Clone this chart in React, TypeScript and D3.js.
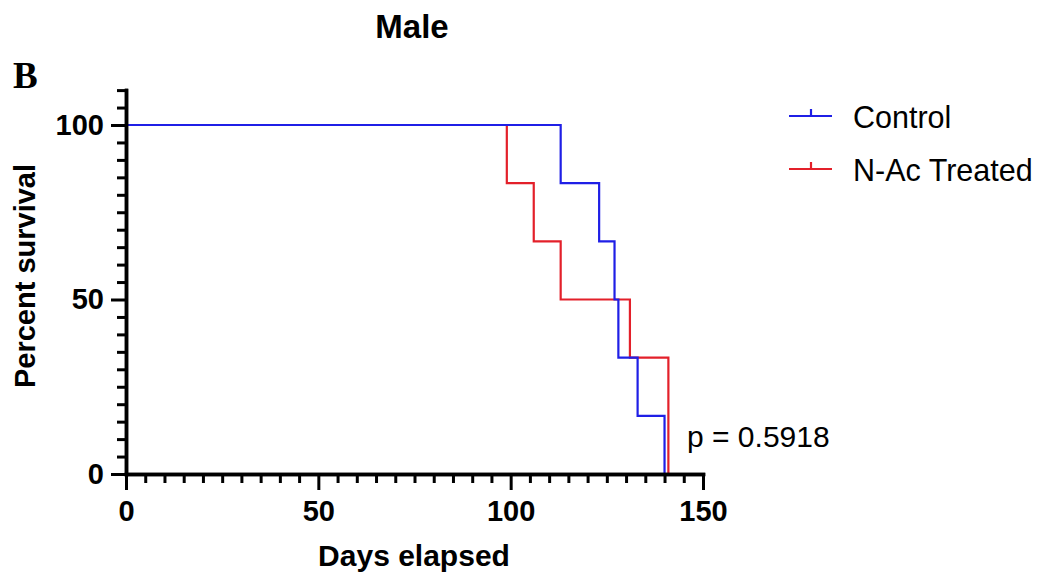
import React, { useEffect, useRef } from 'react';
import * as d3 from 'd3';

// Kaplan-Meier steps
const controlDays = [0, 113, 123, 127, 128, 133, 140];
const controlSurvival = [100, 83.33, 66.67, 50, 33.33, 16.67, 0];
const treatedDays = [0, 99, 106, 113, 131, 141];
const treatedSurvival = [100, 83.33, 66.67, 50, 33.33, 0];

const groups = ['Control', 'N-Ac Treated'];
const groupColors = ['#1f1fe6', '#e3202a'];
const xMajorTicks = [0, 50, 100, 150];
const yMajorTicks = [0, 50, 100];
const pValueText = 'p = 0.5918';

const FONT = '"Liberation Sans", Arial, Helvetica, sans-serif';

export default function App() {
  const svgRef = useRef<SVGSVGElement>(null);

  useEffect(() => {
    const svg = d3.select(svgRef.current);
    svg.selectAll('*').remove();

    const x = d3.scaleLinear().domain([0, 150]).range([126, 703]);
    const y = d3.scaleLinear().domain([0, 100]).range([474, 125]);

    const series = [
      controlDays.map((d, i) => [d, controlSurvival[i]]),
      treatedDays.map((d, i) => [d, treatedSurvival[i]]),
    ];

    const line = d3
      .line<number[]>()
      .x((d) => x(d[0]))
      .y((d) => y(d[1]))
      .curve(d3.curveStepAfter);

    // red under blue, like the original
    [1, 0].forEach((gi) => {
      svg
        .append('path')
        .attr('d', line(series[gi]))
        .attr('fill', 'none')
        .attr('stroke', groupColors[gi])
        .attr('stroke-width', 2.2);
    });

    // axes: minor ticks every 5, majors labelled
    const xMinor = d3.range(0, 151, 5).filter((v) => v % 50 !== 0);
    const yMinor = d3.range(0, 111, 5).filter((v) => v % 50 !== 0);

    const yFull = d3.scaleLinear().domain([0, 110]).range([474, y(110)]);

    const gxMinor = svg.append('g').attr('transform', 'translate(0,474)');
    gxMinor.call(d3.axisBottom(x).tickValues(xMinor).tickSize(9).tickSizeOuter(0).tickFormat(() => ''));
    const gyMinor = svg.append('g').attr('transform', 'translate(126,0)');
    gyMinor.call(d3.axisLeft(yFull).tickValues(yMinor).tickSize(9).tickSizeOuter(0).tickFormat(() => ''));

    const gx = svg.append('g').attr('transform', 'translate(0,474)');
    gx.call(
      d3.axisBottom(x).tickValues(xMajorTicks).tickSize(16).tickSizeOuter(0).tickPadding(10)
    );
    const gy = svg.append('g').attr('transform', 'translate(126,0)');
    gy.call(
      d3.axisLeft(yFull).tickValues(yMajorTicks).tickSize(15).tickSizeOuter(0).tickPadding(7)
    );

    [gxMinor, gyMinor, gx, gy].forEach((g) => {
      g.selectAll('.domain').attr('stroke', '#000').attr('stroke-width', 3.5).attr('stroke-linecap', 'square');
      g.selectAll('.tick line').attr('stroke', '#000').attr('stroke-width', 3);
      g.selectAll('.tick text')
        .attr('font-family', FONT)
        .attr('font-weight', 'bold')
        .attr('font-size', 29)
        .attr('fill', '#000');
    });

    // titles
    svg
      .append('text')
      .attr('x', 412)
      .attr('y', 38)
      .attr('text-anchor', 'middle')
      .attr('font-family', FONT)
      .attr('font-weight', 'bold')
      .attr('font-size', 33)
      .text('Male');

    svg
      .append('text')
      .attr('x', 13)
      .attr('y', 88)
      .attr('font-family', '"Liberation Serif", "Times New Roman", serif')
      .attr('font-weight', 'bold')
      .attr('font-size', 37)
      .text('B');

    svg
      .append('text')
      .attr('x', 414)
      .attr('y', 566)
      .attr('text-anchor', 'middle')
      .attr('font-family', FONT)
      .attr('font-weight', 'bold')
      .attr('font-size', 30)
      .text('Days elapsed');

    svg
      .append('text')
      .attr('transform', 'translate(35,276) rotate(-90)')
      .attr('text-anchor', 'middle')
      .attr('font-family', FONT)
      .attr('font-weight', 'bold')
      .attr('font-size', 29)
      .text('Percent survival');

    // legend
    groups.forEach((name, i) => {
      const ly = 116 + i * 53;
      const g = svg.append('g');
      g.append('line')
        .attr('x1', 789).attr('x2', 832).attr('y1', ly).attr('y2', ly)
        .attr('stroke', groupColors[i]).attr('stroke-width', 2.2);
      g.append('line')
        .attr('x1', 811).attr('x2', 811).attr('y1', ly - 7).attr('y2', ly)
        .attr('stroke', groupColors[i]).attr('stroke-width', 2.2);
      g.append('text')
        .attr('x', 853)
        .attr('y', ly + 12)
        .attr('font-family', FONT)
        .attr('font-size', 30.5)
        .attr('fill', '#000')
        .text(name);
    });

    svg
      .append('text')
      .attr('x', 687)
      .attr('y', 447)
      .attr('font-family', FONT)
      .attr('font-size', 30)
      .attr('fill', '#000')
      .text(pValueText);
  }, []);

  return (
    <div style={{ position: 'absolute', left: 0, top: 0 }}>
      <svg ref={svgRef} width={1043} height={580} style={{ display: 'block', background: '#fff' }} />
    </div>
  );
}
